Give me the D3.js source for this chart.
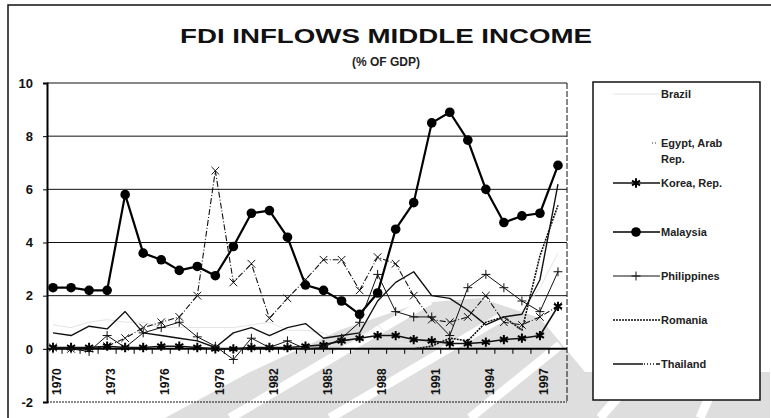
<!DOCTYPE html>
<html><head><meta charset="utf-8">
<script src="https://cdn.jsdelivr.net/npm/d3@7"></script>
<style>
html,body{margin:0;padding:0;background:#fff;}
svg{display:block;font-family:Arial,"Liberation Sans",sans-serif;}
</style></head>
<body><svg id="c" width="771" height="418"></svg>
<script>
const years = d3.range(1970, 1999);
const tickYears = [1970,1973,1976,1979,1982,1985,1988,1991,1994,1997];
const yTicks = [-2,0,2,4,6,8,10];
const seriesNames = ["Brazil","Egypt, Arab Rep.","Korea, Rep.","Malaysia","Philippines","Romania","Thailand"];
const brazil = [0.9,0.8,1.0,1.1,1.0,1.0,0.8,0.8,0.8,0.8,0.8,0.9,1.0,0.7,0.7,0.6,0.1,0.4,0.9,0.2,0.2,0.2,0.5,0.2,0.4,0.7,1.4,2.3,3.6];
const egypt = [0.05,0.0,0.0,0.1,0.4,0.8,1.0,1.2,2.0,6.7,2.5,3.2,1.15,1.9,2.6,3.35,3.35,2.2,3.45,3.2,2.0,1.1,1.0,1.2,2.0,1.0,0.9,1.2,1.6];
const korea = [0.05,0.05,0.05,0.1,0.05,0.05,0.1,0.1,0.05,0.0,0.0,0.05,0.05,0.05,0.1,0.15,0.3,0.4,0.5,0.5,0.35,0.3,0.2,0.2,0.25,0.35,0.4,0.5,1.6];
const malaysia = [2.3,2.3,2.2,2.2,5.8,3.6,3.35,2.95,3.1,2.75,3.85,5.1,5.2,4.2,2.4,2.2,1.8,1.3,2.1,4.5,5.5,8.5,8.9,7.85,6.0,4.75,5.0,5.1,6.9];
const philippines = [0.0,0.0,-0.1,0.5,0.05,0.6,0.8,1.0,0.45,0.1,-0.4,0.4,0.05,0.3,0.0,0.05,0.4,1.0,2.8,1.4,1.2,1.2,0.5,2.3,2.8,2.3,1.8,1.4,2.9];
const romania = [null,null,null,null,null,null,null,null,null,null,null,null,null,null,null,null,null,null,null,null,0.0,0.1,0.4,0.3,1.0,1.2,0.7,3.5,5.4];
const thailand = [0.6,0.5,0.85,0.75,1.4,0.6,0.5,0.4,0.3,0.05,0.6,0.8,0.5,0.8,0.95,0.4,0.5,0.6,1.8,2.5,2.9,2.0,1.9,1.45,0.9,1.2,1.3,2.6,6.2];
const seriesValues = [brazil, egypt, korea, malaysia, philippines, romania, thailand];

const svg = d3.select("#c");
const x = d3.scalePoint().domain(years).range([44, 567]).padding(0.5);
const xb = d3.scaleBand().domain(years).range([44, 567]);
const y = d3.scaleLinear().domain([-2, 10]).range([402, 83]);

// scan watermark (light grey background shapes)
const wm = svg.append("g").attr("fill","#dedede");
wm.append("path").attr("d","M165,418 L250,372 L340,330 L420,303 L480,298 L540,318 L585,372 L770,372 L770,418 Z");
const wmw = svg.append("g").attr("stroke","#fff").attr("stroke-width",9);
[[230,418,430,300],[330,418,500,318],[470,418,560,345],[600,418,640,372],[700,418,720,372]].forEach(s=>{
  wmw.append("line").attr("x1",s[0]).attr("y1",s[1]).attr("x2",s[2]).attr("y2",s[3]);
});

// outer frame
svg.append("rect").attr("x",8).attr("y",5).attr("width",770).attr("height",440)
  .attr("fill","none").attr("stroke","#111").attr("stroke-width",1.5);

// title
svg.append("text").attr("x",386).attr("y",43).attr("text-anchor","middle")
  .attr("font-size",21).attr("font-weight","bold").attr("fill","#111")
  .attr("textLength",412).attr("lengthAdjust","spacingAndGlyphs")
  .text("FDI INFLOWS MIDDLE INCOME");
svg.append("text").attr("x",386).attr("y",66).attr("text-anchor","middle")
  .attr("font-size",12).attr("font-weight","bold").attr("fill","#222")
  .text("(% OF GDP)");

// gridlines
svg.append("g").selectAll("line").data(yTicks.filter(v=>v!==0)).join("line")
  .attr("x1",47).attr("x2",567).attr("y1",d=>y(d)).attr("y2",d=>y(d))
  .attr("stroke","#111").attr("stroke-width",1)
  .attr("stroke-dasharray",d=>d===-2?"2,1":"none");
// right border of plot
svg.append("line").attr("x1",567).attr("x2",567).attr("y1",y(10)).attr("y2",y(-2))
  .attr("stroke","#111").attr("stroke-width",1).attr("stroke-dasharray","6,2");

// y axis
const yAxis = d3.axisLeft(y).tickValues(yTicks).tickSize(4).tickFormat(d=>d);
const gy = svg.append("g").attr("transform","translate(47,0)").call(yAxis);
gy.select(".domain").attr("stroke","#000").attr("stroke-width",2);
gy.selectAll(".tick line").attr("stroke","#000");
gy.selectAll(".tick text").attr("font-size",13).attr("font-weight","bold")
  .attr("fill","#111").attr("x",-14).attr("font-family","Arial,'Liberation Sans',sans-serif");

// x axis at zero
const xAxis = d3.axisBottom(xb).tickValues(tickYears).tickSize(0).tickFormat(d=>d);
const gx = svg.append("g").attr("transform",`translate(0,${y(0)})`).call(xAxis);
gx.select(".domain").attr("stroke","#000").attr("stroke-width",2).attr("d",`M47,0H567`);
gx.selectAll(".tick text").attr("font-size",12).attr("font-weight","bold").attr("fill","#111")
  .attr("transform","rotate(-90)").attr("text-anchor","start")
  .attr("x",-(y(-2)-y(0)-7)).attr("y",4).attr("dy","0.35em")
  .attr("font-family","Arial,'Liberation Sans',sans-serif");
// minor ticks at band edges
svg.append("g").selectAll("line").data(years.slice(1)).join("line")
  .attr("x1",d=>xb(d)).attr("x2",d=>xb(d)).attr("y1",y(0)).attr("y2",y(0)+5)
  .attr("stroke","#000").attr("stroke-width",1);

// series styles
const styles = [
  {stroke:"#e4e4e4", width:1, dash:null, marker:null},
  {stroke:"#111", width:1.1, dash:"6,2,1,2", marker:"x"},
  {stroke:"#111", width:1.6, dash:null, marker:"star"},
  {stroke:"#000", width:2.2, dash:null, marker:"circle"},
  {stroke:"#111", width:1, dash:null, marker:"plus"},
  {stroke:"#111", width:1.6, dash:"2,1", marker:null},
  {stroke:"#111", width:1.4, dash:null, marker:null}
];
const line = d3.line().defined(d=>d.v!=null).x(d=>x(d.year)).y(d=>y(d.v));

function drawMarker(g, type, cx, cy){
  if(type==="circle"){
    g.append("circle").attr("cx",cx).attr("cy",cy).attr("r",4.8).attr("fill","#000");
  } else if(type==="star"){
    g.append("path").attr("transform",`translate(${cx},${cy})`)
      .attr("d",d3.symbol(d3.symbolAsterisk,60)()).attr("stroke","#000").attr("stroke-width",2).attr("fill","none");
  } else if(type==="x"){
    g.append("path").attr("transform",`translate(${cx},${cy})`)
      .attr("d",d3.symbol(d3.symbolX,40)()).attr("stroke","#111").attr("stroke-width",1).attr("fill","none");
  } else if(type==="plus"){
    g.append("path").attr("transform",`translate(${cx},${cy})`)
      .attr("d",d3.symbol(d3.symbolPlus,28)()).attr("stroke","#111").attr("stroke-width",1).attr("fill","none");
  }
}

const plot = svg.append("g");
seriesValues.forEach((vals,i)=>{
  const st = styles[i];
  const data = years.map((yr,j)=>({year:yr, v:vals[j]}));
  const g = plot.append("g");
  g.append("path").datum(data).attr("d",line).attr("fill","none")
    .attr("stroke",st.stroke).attr("stroke-width",st.width)
    .attr("stroke-dasharray",st.dash).attr("stroke-linejoin","round");
  if(st.marker){
    data.filter(d=>d.v!=null).forEach(d=>drawMarker(g, st.marker, x(d.year), y(d.v)));
  }
});

// legend
svg.append("rect").attr("x",593).attr("y",82).attr("width",167).attr("height",318)
  .attr("fill","#fff").attr("stroke","#111").attr("stroke-width",1.5);
const legendY = [98,147,187,236,280,324,368];
const lg = svg.append("g");
seriesNames.forEach((name,i)=>{
  const st = styles[i];
  const ly = legendY[i]-4;
  if(i===1){
    lg.append("line").attr("x1",652).attr("x2",658).attr("y1",ly).attr("y2",ly)
      .attr("stroke","#333").attr("stroke-width",1).attr("stroke-dasharray","1,2");
  } else {
    lg.append("line").attr("x1",613).attr("x2",660).attr("y1",ly).attr("y2",ly)
      .attr("stroke",st.stroke).attr("stroke-width",Math.min(st.width,1.6))
      .attr("stroke-dasharray",i===6?"30,1,1,2,1,2,1,2,1,2":st.dash);
    if(st.marker) drawMarker(lg, st.marker, 636, ly);
  }
  const t = lg.append("text").attr("x",661).attr("y",legendY[i]).attr("font-size",11)
    .attr("fill","#222").attr("font-weight","bold");
  if(i===1){
    t.text("Egypt, Arab");
    lg.append("text").attr("x",661).attr("y",legendY[i]+16).attr("font-size",11)
      .attr("fill","#222").attr("font-weight","bold").text("Rep.");
  } else t.text(name);
});
</script></body></html>
